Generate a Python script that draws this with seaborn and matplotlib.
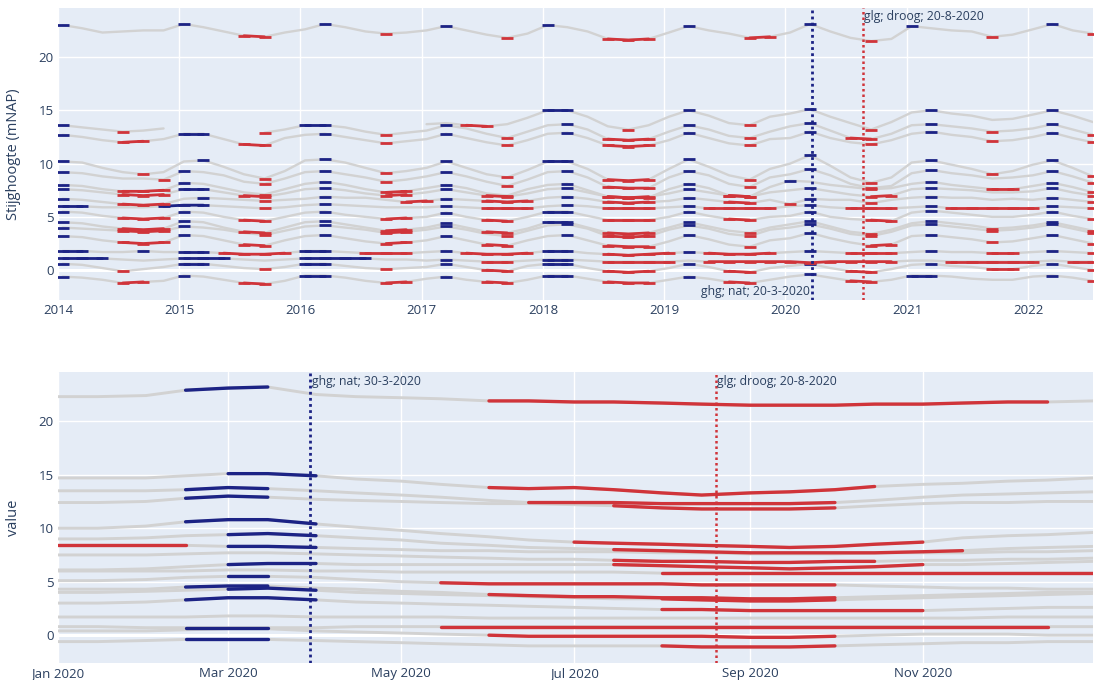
import numpy as np
import pandas as pd
import seaborn as sns
import matplotlib.pyplot as plt
import matplotlib.dates as mdates

nan = np.nan

# --- top panel: readings every two months (mid Jan, Mar, May, Jul, Sep, Nov), 2014 - jul 2022
top_dates = pd.date_range('2014-01-01', '2022-07-01', freq='2MS') + pd.Timedelta(days=14)

t22 = [23.0, 22.7, 22.3, 22.4, 22.5, 22.5,  23.1, 22.8, 22.4, 22.0, 21.9, 22.3,
       22.6, 23.1, 22.8, 22.4, 22.2, 22.3,  22.5, 22.9, 22.5, 22.1, 21.8, 22.2,
       23.0, 22.8, 22.4, 21.7, 21.6, 21.7,  22.3, 22.9, 22.5, 22.2, 21.8, 21.9,
       22.3, 23.1, 22.4, 21.8, 21.5, 21.7,  22.9, 22.7, 22.5, 22.4, 21.9, 22.1,
       22.6, 23.1, 22.5, 22.2]
t15 = [nan, nan, nan, nan, nan, nan,  nan, nan, nan, nan, nan, nan,
       nan, nan, nan, nan, nan, nan,  13.7, 13.8, 13.6, 13.5, 13.7, 14.3,
       15.0, 15.0, 14.4, 13.5, 13.2, 13.6,  14.4, 15.0, 14.5, 13.8, 13.6, 14.4,
       14.7, 15.1, 14.4, 13.8, 13.2, 13.9,  14.8, 15.0, 14.7, 14.5, 14.1, 14.2,
       14.6, 15.0, 14.5, 13.9]
t135 = [13.6, 13.4, 13.2, 13.0, 13.1, 13.3,  nan, nan, nan, nan, 12.9, 13.2,
        13.6, 13.6, 13.4, 13.0, 12.7, 12.9,  13.1, 13.6, 13.3, 12.8, 12.4, 13.0,
        13.6, 13.7, 13.2, 12.3, 12.2, 12.3,  13.0, 13.6, 13.2, 12.6, 12.4, 13.0,
        13.5, 13.8, 13.1, 12.4, 12.3, 12.8,  13.6, 13.7, 13.5, 13.3, 13.0, 13.1,
        13.3, 13.7, 13.2, 12.7]
t125 = [12.7, 12.5, 12.2, 12.0, 12.1, 12.3,  12.8, 12.8, 12.3, 11.8, 11.7, 12.4,
        12.7, 12.8, 12.5, 12.2, 11.9, 12.1,  12.3, 12.8, 12.4, 12.0, 11.7, 12.2,
        12.8, 12.9, 12.4, 11.7, 11.6, 11.7,  12.2, 12.9, 12.4, 11.9, 11.7, 12.3,
        12.4, 13.0, 12.4, 12.0, 11.8, 12.2,  12.8, 13.0, 12.7, 12.5, 12.1, 12.2,
        12.5, 12.9, 12.4, 12.0]
t10 = [10.2, 10.1, 9.6, 9.2, 9.0, 9.2,  10.2, 10.3, 9.7, 9.0, 8.6, 9.3,
       10.3, 10.4, 10.1, 9.6, 9.1, 9.3,  9.6, 10.2, 9.6, 9.0, 8.7, 9.4,
       10.2, 10.2, 9.5, 8.5, 8.4, 8.5,  9.5, 10.4, 9.7, 8.9, 8.5, 9.5,
       10.0, 10.8, 9.8, 8.7, 8.2, 8.7,  10.1, 10.3, 9.9, 9.5, 9.0, 9.3,
       9.9, 10.3, 9.6, 8.8]
t9 = [9.2, 9.1, 8.8, 8.6, 8.6, 8.5,  9.3, 9.2, 8.9, 8.3, 8.1, 8.6,
      9.2, 9.3, 9.0, 8.7, 8.3, 8.5,  8.8, 9.2, 8.8, 8.3, 7.9, 8.5,
      9.2, 9.3, 8.7, 7.8, 7.7, 7.7,  8.7, 9.3, 8.9, 8.1, 7.8, 8.7,
      9.0, 9.5, 8.9, 8.1, 7.7, 7.9,  9.1, 9.4, 9.1, 8.9, 8.6, 8.7,
      8.9, 9.3, 8.8, 8.2]
t84 = [8.0, 7.9, 7.6, 7.4, 7.4, 7.5,  8.2, 8.1, 7.7, 7.3, 7.1, 7.6,
       8.1, 8.3, 8.0, 7.6, 7.3, 7.4,  7.7, 8.0, 7.7, 7.2, 7.0, 7.6,
       8.0, 8.1, 7.5, 6.9, 6.8, 6.8,  7.6, 8.1, 7.7, 7.0, 6.9, 7.8,
       8.4, 8.3, 8.0, 7.8, 7.6, 7.7,  8.1, 8.3, 8.0, 7.8, 7.6, 7.6,
       7.9, 8.2, 7.8, 7.3]
t75 = [7.6, 7.5, 7.3, 7.1, 7.0, 7.1,  7.6, 7.6, 7.3, 7.0, 6.9, 7.2,
       7.6, 7.7, 7.5, 7.2, 7.0, 7.1,  7.3, 7.6, 7.3, 7.0, 6.9, 7.2,
       7.6, 7.7, 7.3, 6.9, 6.8, 6.9,  7.2, 7.6, 7.3, 7.0, 6.9, 7.3,
       7.5, 7.7, 7.4, 7.1, 6.9, 7.0,  7.6, 7.7, 7.6, 7.5, 7.3, 7.3,
       7.4, 7.7, 7.3, 7.0]
t63 = [6.7, 6.6, 6.4, 6.2, 6.1, 6.2,  6.7, 6.8, 6.7, 6.6, 6.5, 6.6,
       6.7, 6.9, 6.8, 6.8, 6.6, 6.4,  6.5, 6.7, 6.6, 6.5, 6.4, 6.5,
       6.8, 6.9, 6.7, 6.4, 6.3, 6.4,  6.5, 6.8, 6.6, 6.4, 6.3, 6.6,
       6.2, 6.7, 6.6, 6.6, 6.3, 6.6,  6.8, 6.9, 6.8, 6.8, 6.6, 6.7,
       6.6, 6.8, 6.6, 6.4]
t6 = [6.0, 6.0, 5.9, 5.9, 5.9, 6.0,  6.1, 6.1, 6.0, 5.9, 5.8, 5.9,
      6.1, 6.2, 6.1, 6.0, 5.9, 5.9,  5.9, 6.0, 5.9, 5.8, 5.8, 5.8,
      6.0, 6.1, 6.0, 5.8, 5.8, 5.8,  5.9, 6.0, 5.8, 5.8, 5.8, 5.8,
      6.0, 6.1, 5.9, 5.8, 5.8, 5.8,  5.9, 6.0, 5.8, 5.8, 5.8, 5.8,
      5.8, 6.0, 5.9, 5.8]
t51 = [5.5, 5.4, 5.1, 4.9, 4.8, 4.9,  5.5, 5.4, 5.0, 4.7, 4.6, 5.0,
       5.4, 5.5, 5.2, 5.0, 4.8, 4.9,  5.0, 5.4, 5.0, 4.7, 4.6, 5.0,
       5.5, 5.5, 5.1, 4.7, 4.7, 4.7,  5.0, 5.5, 5.1, 4.8, 4.7, 5.0,
       5.1, 5.5, 5.0, 4.8, 4.7, 4.6,  5.4, 5.6, 5.4, 5.2, 5.0, 5.0,
       5.2, 5.5, 5.1, 4.8]
t43 = [4.5, 4.4, 4.1, 3.9, 3.8, 3.9,  4.6, 4.5, 4.0, 3.6, 3.5, 4.0,
       4.5, 4.6, 4.3, 4.0, 3.7, 3.8,  4.0, 4.4, 4.0, 3.6, 3.5, 3.9,
       4.5, 4.5, 4.0, 3.5, 3.4, 3.5,  4.0, 4.5, 4.1, 3.7, 3.5, 4.0,
       4.3, 4.6, 4.1, 3.6, 3.4, 3.8,  4.4, 4.6, 4.4, 4.2, 3.9, 4.0,
       4.2, 4.5, 4.1, 3.7]
t40 = [4.0, 3.9, 3.8, 3.7, 3.6, 3.7,  4.1, 4.0, 3.8, 3.5, 3.3, 3.7,
       4.1, 4.2, 4.0, 3.8, 3.5, 3.6,  3.8, 4.1, 3.8, 3.4, 3.2, 3.7,
       4.2, 4.3, 3.9, 3.2, 3.1, 3.2,  3.8, 4.2, 3.9, 3.4, 3.2, 3.8,
       4.0, 4.3, 3.9, 3.4, 3.2, 3.6,  4.2, 4.3, 4.1, 3.9, 3.7, 3.8,
       4.0, 4.3, 3.9, 3.5]
t30 = [3.2, 3.1, 2.8, 2.6, 2.5, 2.6,  3.3, 3.2, 2.8, 2.4, 2.3, 2.8,
       3.2, 3.3, 3.0, 2.7, 2.5, 2.6,  2.8, 3.2, 2.8, 2.4, 2.3, 2.8,
       3.2, 3.3, 2.8, 2.3, 2.2, 2.2,  2.7, 3.3, 2.9, 2.4, 2.2, 2.8,
       3.0, 3.5, 3.0, 2.6, 2.3, 2.4,  3.2, 3.3, 3.1, 2.9, 2.6, 2.7,
       3.0, 3.3, 2.9, 2.5]
t17 = [1.8, 1.8, 1.7, 1.7, 1.8, 1.7,  1.7, 1.7, 1.6, 1.5, 1.5, 1.6,
       1.8, 1.8, 1.7, 1.6, 1.6, 1.6,  1.7, 1.8, 1.6, 1.5, 1.5, 1.6,
       1.8, 1.8, 1.6, 1.5, 1.4, 1.5,  1.6, 1.7, 1.6, 1.5, 1.5, 1.6,
       1.7, 1.8, 1.7, 1.6, 1.6, 1.6,  1.7, 1.8, 1.7, 1.7, 1.6, 1.6,
       1.7, 1.8, 1.7, 1.6]
t08 = [1.1, 1.1, 1.1, 1.0, 0.9, 1.0,  1.1, 1.1, 1.1, 1.0, 0.9, 1.0,
       1.1, 1.1, 1.1, 1.1, 1.0, 1.0,  0.9, 1.0, 0.9, 0.8, 0.8, 0.9,
       1.0, 1.0, 0.9, 0.8, 0.8, 0.8,  0.8, 0.9, 0.8, 0.8, 0.8, 0.8,
       0.8, 0.7, 0.8, 0.8, 0.8, 0.8,  0.9, 0.9, 0.8, 0.8, 0.8, 0.8,
       0.8, 0.9, 0.8, 0.8]
t04 = [0.6, 0.5, 0.2, -0.1, 0.1, 0.3,  0.6, 0.6, 0.4, 0.2, 0.1, 0.3,
       0.6, 0.6, 0.4, 0.2, 0.1, 0.2,  0.3, 0.6, 0.3, 0.0, -0.1, 0.4,
       0.6, 0.6, 0.2, -0.1, -0.2, -0.1,  0.2, 0.6, 0.3, -0.1, -0.2, 0.2,
       0.4, 0.6, 0.2, -0.1, -0.2, 0.1,  0.5, 0.6, 0.4, 0.3, 0.1, 0.1,
       0.4, 0.6, 0.3, 0.0]
tm06 = [-0.6, -0.7, -0.9, -1.2, -1.1, -1.0,  -0.5, -0.6, -0.9, -1.2, -1.3, -1.0,
        -0.5, -0.5, -0.7, -1.0, -1.2, -1.1,  -0.8, -0.6, -0.9, -1.1, -1.2, -0.9,
        -0.5, -0.5, -0.8, -1.1, -1.2, -1.2,  -0.9, -0.6, -0.8, -1.1, -1.2, -0.9,
        -0.6, -0.4, -0.7, -1.0, -1.1, -0.9,  -0.5, -0.5, -0.6, -0.8, -0.9, -0.9,
        -0.6, -0.5, -0.7, -1.0]

# --- bottom panel: 2020 in detail, readings on the 1st and 15th of each month
bot_dates = pd.date_range('2020-01-01', '2020-12-15', freq='SMS').append(pd.DatetimeIndex(['2020-12-31']))

b22 = [22.3, 22.3, 22.4, 22.9, 23.1, 23.2, 22.5, 22.3, 22.2, 22.1, 21.9, 21.9, 21.8,
       21.8, 21.7, 21.6, 21.5, 21.5, 21.5, 21.6, 21.6, 21.7, 21.8, 21.8, 21.9]
b15 = [14.7, 14.7, 14.7, 14.9, 15.1, 15.1, 14.9, 14.6, 14.4, 14.1, 13.8, 13.7, 13.8,
       13.6, 13.3, 13.1, 13.3, 13.4, 13.6, 13.9, 14.1, 14.2, 14.4, 14.5, 14.7]
b135 = [13.5, 13.5, 13.5, 13.6, 13.8, 13.7, 13.5, 13.3, 13.1, 12.9, 12.6, 12.4, 12.4,
        12.4, 12.3, 12.3, 12.3, 12.3, 12.4, 12.6, 12.9, 13.1, 13.2, 13.3, 13.4]
b125 = [12.4, 12.4, 12.5, 12.8, 13.0, 12.9, 12.7, 12.6, 12.5, 12.4, 12.3, 12.3, 12.2,
        12.1, 11.9, 11.8, 11.8, 11.8, 11.9, 12.1, 12.3, 12.4, 12.4, 12.5, 12.5]
b10 = [10.0, 10.0, 10.2, 10.6, 10.8, 10.8, 10.4, 10.1, 9.8, 9.5, 9.2, 8.9, 8.7,
       8.6, 8.5, 8.4, 8.3, 8.2, 8.3, 8.5, 8.7, 9.1, 9.3, 9.4, 9.6]
b9 = [9.0, 9.0, 9.1, 9.3, 9.4, 9.5, 9.3, 9.1, 8.9, 8.6, 8.4, 8.2, 8.1,
      8.0, 7.9, 7.8, 7.7, 7.7, 7.7, 7.7, 7.8, 7.9, 8.1, 8.2, 8.3]
b84 = [8.4, 8.4, 8.4, 8.4, 8.3, 8.3, 8.2, 8.1, 8.0, 7.9, 7.9, 7.8, 7.8,
       7.8, 7.7, 7.7, 7.6, 7.6, 7.6, 7.7, 7.7, 7.7, 7.8, 7.8, 7.9]
b75 = [7.5, 7.5, 7.5, 7.6, 7.7, 7.7, 7.6, 7.5, 7.4, 7.3, 7.2, 7.1, 7.1,
       7.0, 6.9, 6.9, 6.8, 6.8, 6.9, 6.9, 7.0, 7.0, 7.1, 7.1, 7.2]
b63 = [6.1, 6.1, 6.2, 6.4, 6.6, 6.7, 6.7, 6.6, 6.6, 6.6, 6.6, 6.6, 6.6,
       6.6, 6.5, 6.4, 6.3, 6.2, 6.3, 6.4, 6.6, 6.6, 6.7, 6.8, 6.9]
b6 = [6.0, 6.0, 6.0, 6.0, 6.1, 6.1, 6.0, 6.0, 5.9, 5.9, 5.9, 5.9, 5.9,
      5.9, 5.8, 5.8, 5.8, 5.8, 5.8, 5.8, 5.8, 5.8, 5.8, 5.8, 5.8]
b51 = [5.1, 5.1, 5.2, 5.4, 5.5, 5.5, 5.4, 5.2, 5.0, 4.9, 4.8, 4.8, 4.8,
       4.8, 4.8, 4.7, 4.7, 4.7, 4.7, 4.6, 4.5, 4.4, 4.4, 4.3, 4.3]
b43 = [4.3, 4.3, 4.3, 4.5, 4.6, 4.6, 4.4, 4.3, 4.1, 4.0, 3.8, 3.7, 3.6,
       3.6, 3.5, 3.5, 3.4, 3.4, 3.5, 3.6, 3.7, 3.8, 3.9, 4.0, 4.0]
b40 = [4.0, 4.0, 4.1, 4.2, 4.3, 4.4, 4.2, 4.0, 3.9, 3.8, 3.7, 3.6, 3.5,
       3.4, 3.4, 3.3, 3.2, 3.2, 3.3, 3.4, 3.5, 3.6, 3.7, 3.8, 3.9]
b30 = [3.0, 3.0, 3.1, 3.3, 3.5, 3.5, 3.3, 3.1, 3.0, 2.9, 2.8, 2.7, 2.6,
       2.5, 2.4, 2.4, 2.3, 2.3, 2.3, 2.3, 2.3, 2.4, 2.5, 2.6, 2.6]
b17 = [1.7, 1.7, 1.7, 1.7, 1.8, 1.8, 1.7, 1.7, 1.7, 1.7, 1.6, 1.6, 1.6,
       1.6, 1.6, 1.6, 1.6, 1.6, 1.6, 1.6, 1.6, 1.6, 1.7, 1.7, 1.7]
b08 = [0.8, 0.8, 0.7, 0.7, 0.7, 0.7, 0.7, 0.8, 0.8, 0.8, 0.8, 0.8, 0.8,
       0.8, 0.8, 0.8, 0.8, 0.8, 0.8, 0.8, 0.8, 0.8, 0.8, 0.8, 0.8]
b04 = [0.4, 0.4, 0.4, 0.5, 0.6, 0.6, 0.4, 0.3, 0.2, 0.1, 0.0, -0.1, -0.1,
       -0.1, -0.1, -0.1, -0.2, -0.2, -0.1, 0.0, 0.1, 0.1, 0.1, 0.0, 0.0]
bm06 = [-0.6, -0.6, -0.5, -0.4, -0.4, -0.4, -0.5, -0.6, -0.7, -0.8, -0.9, -1.0, -1.0,
        -1.0, -1.0, -1.1, -1.1, -1.1, -1.0, -0.9, -0.8, -0.7, -0.7, -0.6, -0.6]

wells = ['p22', 'p15', 'p135', 'p125', 'p10', 'p9', 'p84', 'p75', 'p63',
         'p6', 'p51', 'p43', 'p40', 'p30', 'p17', 'p08', 'p04', 'pm06']
top_series = [t22, t15, t135, t125, t10, t9, t84, t75, t63,
              t6, t51, t43, t40, t30, t17, t08, t04, tm06]
bot_series = [b22, b15, b135, b125, b10, b9, b84, b75, b63,
              b6, b51, b43, b40, b30, b17, b08, b04, bm06]

# 2020 periods marked as highest (ghg) and lowest (glg) per well
ghg_from = ['02-15', '03-01', '02-15', '02-15', '02-15', '03-01', '03-01', None, '03-01',
            None, '03-01', '02-15', '03-01', '02-15', None, '02-15', None, '02-15']
ghg_to = ['03-15', '04-01', '03-15', '03-15', '04-01', '04-01', '04-01', None, '04-01',
          None, '03-15', '03-15', '04-01', '04-01', None, '03-15', None, '03-15']
glg_from = ['06-01', '06-01', '06-15', '07-15', '07-01', '07-15', '01-01', '07-15', '07-15',
            '08-01', '05-15', '06-01', '08-01', '08-01', None, '05-15', '06-01', '08-01']
glg_to = ['12-15', '10-15', '10-01', '10-01', '11-01', '11-15', '02-15', '10-15', '11-01',
          '12-31', '10-01', '10-01', '10-01', '11-01', None, '12-15', '10-01', '10-01']

GREY = '#d2d2d2'
BLUE = '#1c2385'
RED = '#d0343a'
TXT = '#2a3f5f'

sns.set_theme(style='darkgrid', rc={'axes.facecolor': '#E5ECF6', 'grid.color': 'white',
                                    'axes.edgecolor': 'white'})
plt.rcParams['font.family'] = ['Open Sans', 'DejaVu Sans']


def to_long(dates, series):
    parts = []
    for name, vals in zip(wells, series):
        v = np.array(vals, dtype=float)
        seg = np.cumsum(np.isnan(v))
        d = pd.DataFrame({'date': dates, 'value': v, 'series': name,
                          'pos': np.arange(len(v)), 'seg': [f'{name}-{s}' for s in seg]})
        parts.append(d.dropna(subset=['value']))
    return pd.concat(parts, ignore_index=True)


def runs(df, flag):
    # consecutive flagged readings of one well form one stretch
    d = df[df[flag]].copy()
    brk = (d['series'] != d['series'].shift()) | (d['pos'].diff() != 1)
    d['run'] = brk.cumsum()
    return d


# top: per calendar year, the highest readings (in wet years) and lowest (in dry years)
top = to_long(top_dates, top_series)
parts = []
for name, g in top.groupby('series', sort=False):
    g = g.copy()
    yr = g['date'].dt.year
    ymax = g.groupby(yr)['value'].transform('max')
    ymin = g.groupby(yr)['value'].transform('min')
    g['ghg'] = (g['value'] >= ymax - 0.05) & (g['value'] >= g['value'].quantile(0.65))
    g['glg'] = (g['value'] <= ymin + 0.11) & (g['value'] <= g['value'].quantile(0.32))
    parts.append(g)
top = pd.concat(parts, ignore_index=True)

bot = to_long(bot_dates, bot_series)
bot['ghg'] = False
bot['glg'] = False
for name, gf, gt, lf, lt in zip(wells, ghg_from, ghg_to, glg_from, glg_to):
    m = bot['series'] == name
    if gf:
        bot.loc[m, 'ghg'] = bot.loc[m, 'date'].between(pd.Timestamp('2020-' + gf), pd.Timestamp('2020-' + gt))
    if lf:
        bot.loc[m, 'glg'] = bot.loc[m, 'date'].between(pd.Timestamp('2020-' + lf), pd.Timestamp('2020-' + lt))


def draw(ax, df, lw_grey, lw_hi, msize):
    sns.lineplot(data=df, x='date', y='value', units='seg', estimator=None, color=GREY,
                 lw=lw_grey, ax=ax, legend=False, sort=False)
    for flag, col in (('ghg', BLUE), ('glg', RED)):
        h = runs(df, flag)
        sns.lineplot(data=h, x='date', y='value', units='run', estimator=None, color=col,
                     lw=lw_hi, ax=ax, legend=False, sort=False)
        if msize:
            sns.scatterplot(data=h, x='date', y='value', marker='_', s=msize, linewidth=lw_hi,
                            color=col, ax=ax, legend=False, zorder=3)


fig = plt.figure(figsize=(10.98, 6.8), dpi=100)
ax1 = fig.add_axes([0.0528, 0.5588, 0.9426, 0.4294])
ax2 = fig.add_axes([0.0528, 0.0250, 0.9426, 0.4279])

draw(ax1, top, 1.7, 2.0, 70)
draw(ax2, bot, 2.1, 2.4, None)

for ax in (ax1, ax2):
    ax.set_axisbelow(True)
    ax.grid(True, color='white', lw=1)
    ax.axhline(0, color='white', lw=2.2, zorder=0.9)
    ax.tick_params(length=0, colors=TXT, labelsize=9.5, pad=3)
    for s in ax.spines.values():
        s.set_visible(False)
    ax.set_yticks([0, 5, 10, 15, 20])
    ax.set_xlabel('')

ax1.set_ylim(-2.8, 24.6)
ax2.set_ylim(-2.6, 24.6)
ax1.set_xlim(pd.Timestamp('2014-01-01'), pd.Timestamp('2022-07-15'))
ax1.xaxis.set_major_locator(mdates.YearLocator())
ax1.xaxis.set_major_formatter(mdates.DateFormatter('%Y'))
ax2.set_xlim(pd.Timestamp('2020-01-01'), pd.Timestamp('2020-12-31'))
ax2.xaxis.set_major_locator(mdates.MonthLocator(bymonth=[1, 3, 5, 7, 9, 11]))
ax2.xaxis.set_major_formatter(mdates.DateFormatter('%b %Y'))

ax1.set_ylabel('Stijghoogte (mNAP)', fontsize=10.5, color=TXT)
ax2.set_ylabel('value', fontsize=10.5, color=TXT)
for ax in (ax1, ax2):
    ax.yaxis.set_label_coords(-0.036, 0.5)

# ghg / glg reference days
dots = (0, (1, 1.2))
ghg_top, glg_top = pd.Timestamp('2020-03-20'), pd.Timestamp('2020-08-20')
ghg_bot, glg_bot = pd.Timestamp('2020-03-30'), pd.Timestamp('2020-08-20')
ax1.axvline(ghg_top, color=BLUE, ls=dots, lw=2, zorder=4)
ax1.axvline(glg_top, color=RED, ls=dots, lw=1.8, zorder=4)
ax2.axvline(ghg_bot, color=BLUE, ls=dots, lw=2, zorder=4)
ax2.axvline(glg_bot, color=RED, ls=dots, lw=1.8, zorder=4)

kw = dict(xycoords=('data', 'axes fraction'), textcoords='offset points',
          fontsize=8.8, color=TXT, va='center', zorder=5)
ax1.annotate('glg; droog; 20-8-2020', xy=(glg_top, 1), xytext=(1, -6), ha='left', **kw)
ax1.annotate('ghg; nat; 20-3-2020', xy=(ghg_top, 0), xytext=(-1, 6), ha='right', **kw)
ax2.annotate('ghg; nat; 30-3-2020', xy=(ghg_bot, 1), xytext=(1, -7), ha='left', **kw)
ax2.annotate('glg; droog; 20-8-2020', xy=(glg_bot, 1), xytext=(1, -7), ha='left', **kw)

fig.savefig('out.png', dpi=100)
